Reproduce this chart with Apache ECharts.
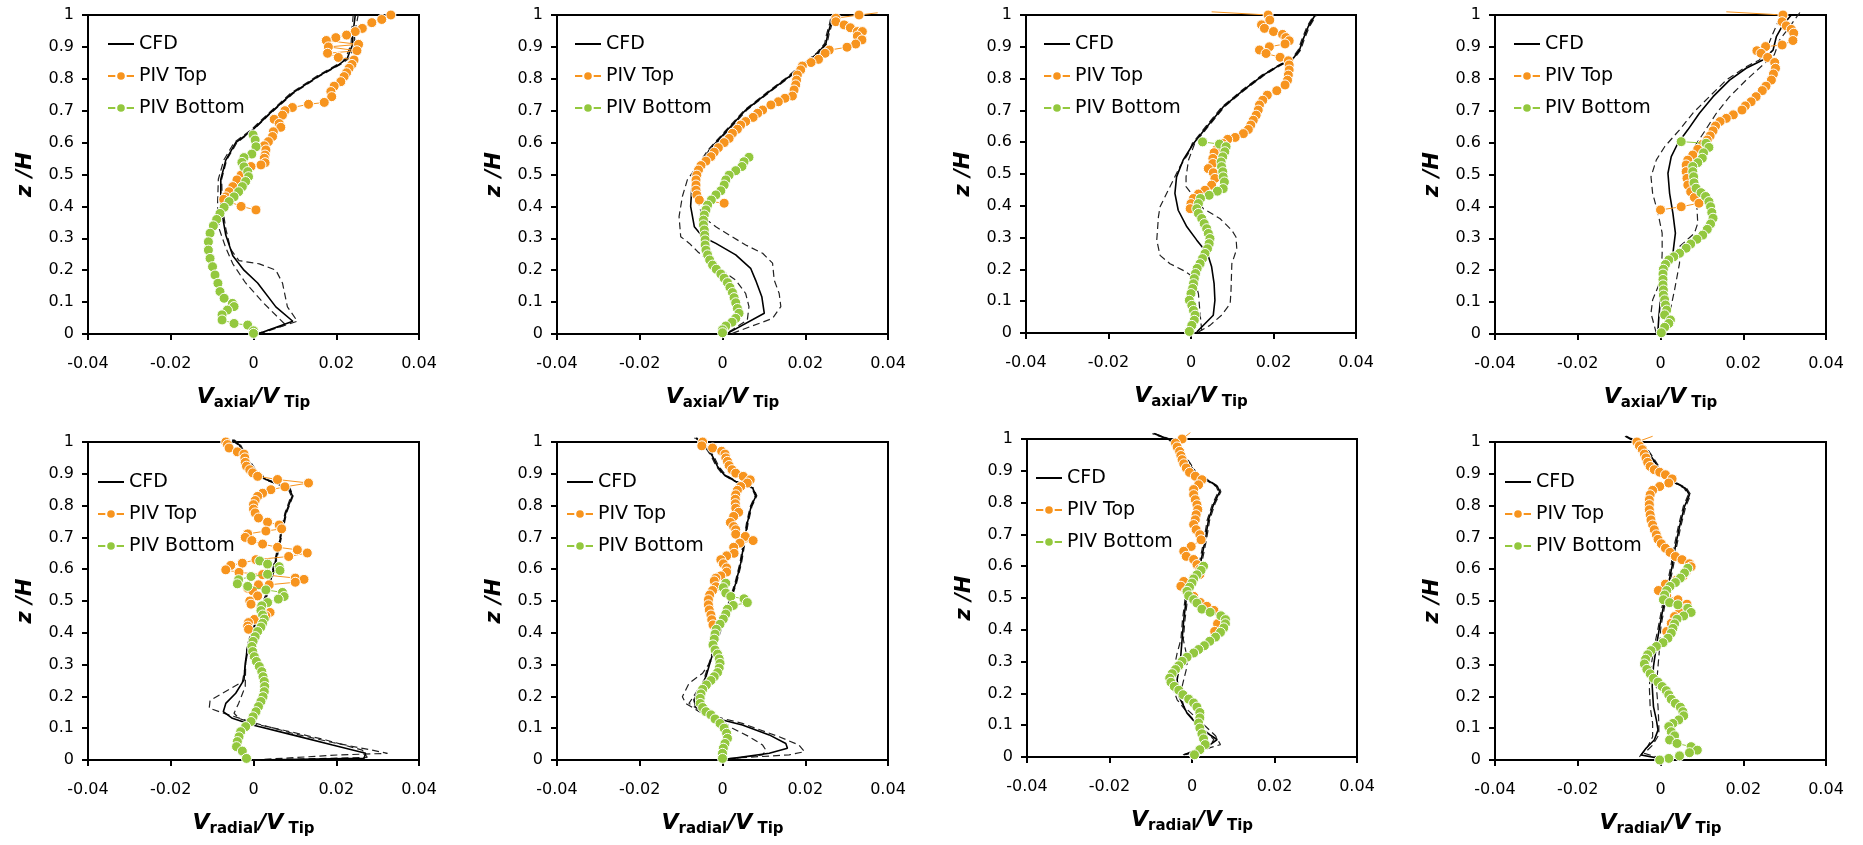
<!DOCTYPE html>
<html><head><meta charset="utf-8">
<script src="https://cdn.jsdelivr.net/npm/echarts@6/dist/echarts.min.js"></script>
<style>html,body{margin:0;padding:0;background:#fff}#c{width:1863px;height:845px}</style>
</head><body><div id="c"></div>
<script>
// ---------- tick labels ----------
const xTicks = [-0.04, -0.02, 0, 0.02, 0.04];
const yTicks = [0, 0.1, 0.2, 0.3, 0.4, 0.5, 0.6, 0.7, 0.8, 0.9, 1];
const legendNames = ['CFD', 'PIV Top', 'PIV Bottom'];

// ---------- Panel 1 (axial) ----------
const a1_cfd = [[0.001,0],[0.0095,0.04],[0.0054,0.085],[0.001,0.16],[-0.0023,0.2],[-0.005,0.245],[-0.0067,0.31],[-0.0079,0.4],[-0.0079,0.485],[-0.0067,0.545],[-0.0043,0.6],[-0.0002,0.64],[0.0038,0.69],[0.0094,0.755],[0.0159,0.81],[0.0207,0.845],[0.0227,0.865],[0.024,0.91],[0.024,0.94],[0.0246,1.0]];
const a1_cfdA = [[0.0012,0],[0.0106,0.04],[0.0082,0.085],[0.007,0.16],[0.0054,0.2],[0.0014,0.22],[-0.0035,0.23],[-0.0055,0.265],[-0.0067,0.33],[-0.0075,0.4],[-0.0077,0.485],[-0.0065,0.545],[-0.004,0.6],[0,0.64],[0.004,0.69],[0.0097,0.755],[0.0162,0.81],[0.021,0.845],[0.0232,0.865],[0.0245,0.91],[0.0244,0.94],[0.0253,1.0]];
const a1_cfdB = [[0.0005,0],[0.0078,0.028],[0.0022,0.1],[-0.0019,0.16],[-0.005,0.22],[-0.0067,0.27],[-0.0083,0.33],[-0.0087,0.4],[-0.0085,0.485],[-0.0072,0.545],[-0.0047,0.6],[-0.0006,0.64],[0.0035,0.69],[0.009,0.755],[0.0155,0.81],[0.0203,0.845],[0.0223,0.865],[0.0236,0.91],[0.0237,0.94],[0.0241,1.0]];
const a1_top = [[0.0332,1.0],[0.031,0.986],[0.0286,0.976],[0.0263,0.958],[0.0246,0.948],[0.0225,0.937],[0.0199,0.929],[0.0176,0.92],[0.0254,0.908],[0.0181,0.9],[0.025,0.888],[0.0179,0.88],[0.0205,0.867],[0.0243,0.859],[0.0238,0.845],[0.0231,0.833],[0.0225,0.819],[0.0219,0.807],[0.0211,0.791],[0.0195,0.777],[0.0187,0.76],[0.0189,0.744],[0.0171,0.726],[0.0133,0.72],[0.0094,0.71],[0.0076,0.7],[0.007,0.686],[0.005,0.673],[0.0062,0.66],[0.0066,0.648],[0.0048,0.634],[0.0046,0.619],[0.0036,0.603],[0.0026,0.59],[0.003,0.577],[0.0028,0.561],[0.0026,0.551],[0.0028,0.537],[0.0018,0.53],[-0.0006,0.525],[-0.0023,0.506],[-0.003,0.498],[-0.004,0.483],[-0.005,0.462],[-0.0059,0.446],[-0.0067,0.43],[-0.0072,0.422],[-0.003,0.4],[0.0006,0.389]];
const a1_bot = [[-0.0001,0.624],[0.0004,0.608],[0.0006,0.587],[-0.0004,0.564],[-0.0023,0.553],[-0.0028,0.538],[-0.0023,0.524],[-0.0014,0.509],[-0.0012,0.493],[-0.0019,0.478],[-0.0027,0.462],[-0.0036,0.446],[-0.0047,0.43],[-0.0059,0.415],[-0.0071,0.397],[-0.0081,0.378],[-0.0089,0.359],[-0.0097,0.339],[-0.0105,0.316],[-0.0109,0.289],[-0.0109,0.263],[-0.0105,0.237],[-0.0099,0.211],[-0.0093,0.185],[-0.0086,0.159],[-0.0081,0.133],[-0.0071,0.112],[-0.0051,0.096],[-0.0047,0.086],[-0.0063,0.075],[-0.0076,0.06],[-0.0076,0.044],[-0.0047,0.033],[-0.0014,0.028],[0,0.01],[0,0.002]];

// ---------- Panel 2 (axial) ----------
const a2_cfd = [[0.0012,0.002],[0.0101,0.065],[0.0095,0.117],[0.008,0.169],[0.0068,0.206],[0.0032,0.248],[-0.0016,0.284],[-0.0048,0.305],[-0.0068,0.336],[-0.0077,0.4],[-0.0074,0.462],[-0.0056,0.519],[-0.0032,0.577],[0.0008,0.634],[0.0056,0.702],[0.0113,0.76],[0.0161,0.807],[0.0193,0.843],[0.023,0.88],[0.025,0.911],[0.0254,0.937],[0.0262,0.974],[0.0266,1.0]];
const a2_cfdA = [[0.0024,0.002],[0.0121,0.049],[0.0141,0.086],[0.0137,0.127],[0.0125,0.169],[0.0121,0.222],[0.0097,0.253],[0.0056,0.279],[-0.0016,0.336],[-0.0048,0.368],[-0.0056,0.4],[-0.0062,0.462],[-0.005,0.519],[-0.0029,0.577],[0.0011,0.634],[0.0059,0.702],[0.0116,0.76],[0.0164,0.807],[0.0196,0.843],[0.0233,0.88],[0.0253,0.911],[0.0257,0.937],[0.0265,0.974],[0.0269,1.0]];
const a2_cfdB = [[0.0016,0.007],[0.006,0.044],[0.0064,0.086],[0.0056,0.127],[0.0032,0.169],[-0.0032,0.227],[-0.006,0.258],[-0.008,0.284],[-0.0101,0.305],[-0.0105,0.368],[-0.0097,0.431],[-0.0085,0.483],[-0.0056,0.536],[-0.0035,0.577],[0.0005,0.634],[0.0053,0.702],[0.011,0.76],[0.0158,0.807],[0.019,0.843],[0.0227,0.88],[0.0247,0.911],[0.0251,0.937],[0.0259,0.974],[0.0263,1.0]];
const a2_top = [[0.0375,1.007],[0.033,1.0],[0.0274,0.99],[0.0274,0.979],[0.0294,0.969],[0.0309,0.96],[0.0326,0.948],[0.0338,0.948],[0.0326,0.934],[0.0337,0.922],[0.0322,0.909],[0.0301,0.899],[0.0258,0.89],[0.0248,0.88],[0.0232,0.861],[0.0214,0.851],[0.0193,0.84],[0.0189,0.828],[0.0181,0.812],[0.0179,0.796],[0.0177,0.781],[0.0173,0.765],[0.0169,0.746],[0.0151,0.739],[0.0135,0.728],[0.0117,0.718],[0.0097,0.702],[0.0085,0.692],[0.0074,0.679],[0.0056,0.666],[0.0044,0.655],[0.0036,0.642],[0.0024,0.629],[0.0016,0.613],[0.0004,0.6],[-0.001,0.584],[-0.002,0.57],[-0.0028,0.556],[-0.004,0.542],[-0.0052,0.528],[-0.0058,0.514],[-0.0062,0.498],[-0.0064,0.483],[-0.0064,0.467],[-0.0064,0.451],[-0.0062,0.436],[-0.0056,0.42],[0.0004,0.41]];
const a2_bot = [[0.0064,0.554],[0.0052,0.54],[0.0047,0.525],[0.0032,0.512],[0.0016,0.498],[0.0008,0.483],[0.0004,0.467],[-0.0004,0.449],[-0.0016,0.436],[-0.0027,0.42],[-0.0036,0.404],[-0.004,0.389],[-0.0044,0.373],[-0.0046,0.357],[-0.0046,0.342],[-0.0044,0.326],[-0.0043,0.31],[-0.0042,0.295],[-0.0042,0.279],[-0.004,0.263],[-0.0036,0.248],[-0.0031,0.232],[-0.0024,0.216],[-0.0015,0.203],[-0.0004,0.188],[0.0004,0.175],[0.0012,0.161],[0.0018,0.146],[0.0024,0.13],[0.0028,0.114],[0.0032,0.098],[0.0036,0.08],[0.004,0.065],[0.0032,0.049],[0.0023,0.037],[0.0008,0.025],[0,0.013],[0,0.004]];

// ---------- Panel 3 (axial) ----------
const a3_cfd = [[0.0014,0.003],[0.0054,0.056],[0.0058,0.103],[0.0056,0.155],[0.005,0.208],[0.004,0.25],[0.0014,0.292],[-0.001,0.334],[-0.0031,0.386],[-0.0039,0.439],[-0.0035,0.491],[-0.0019,0.544],[0.0006,0.596],[0.0038,0.648],[0.0078,0.711],[0.0127,0.764],[0.0175,0.811],[0.0216,0.843],[0.0248,0.864],[0.0263,0.89],[0.0271,0.921],[0.0284,0.963],[0.0301,1.0]];
const a3_cfdA = [[0.0018,0.003],[0.0046,0.024],[0.0074,0.056],[0.0095,0.092],[0.0097,0.134],[0.0099,0.218],[0.0111,0.265],[0.0109,0.302],[0.0099,0.323],[0.007,0.36],[0.003,0.391],[-0.0012,0.46],[-0.0012,0.491],[-0.0006,0.544],[0.0009,0.596],[0.0041,0.648],[0.0081,0.711],[0.013,0.764],[0.0178,0.811],[0.0219,0.843],[0.0251,0.864],[0.0266,0.89],[0.0274,0.921],[0.0287,0.963],[0.0304,1.0]];
const a3_cfdB = [[0.0026,0.008],[0.0022,0.061],[0.0018,0.124],[0.0006,0.176],[-0.0019,0.197],[-0.0051,0.218],[-0.0075,0.244],[-0.0083,0.292],[-0.0079,0.365],[-0.0075,0.397],[-0.0051,0.46],[-0.0027,0.523],[-0.0006,0.565],[0.0003,0.596],[0.0035,0.648],[0.0075,0.711],[0.0124,0.764],[0.0172,0.811],[0.0213,0.843],[0.0245,0.864],[0.026,0.89],[0.0268,0.921],[0.0281,0.963],[0.0298,1.0]];
const a3_top = [[0.005,1.01],[0.0187,1.0],[0.0191,0.984],[0.0171,0.969],[0.0178,0.958],[0.02,0.948],[0.0222,0.939],[0.023,0.929],[0.0238,0.919],[0.0228,0.909],[0.019,0.9],[0.0166,0.89],[0.0182,0.879],[0.0216,0.867],[0.0236,0.856],[0.0238,0.843],[0.0238,0.827],[0.0236,0.811],[0.0234,0.795],[0.0228,0.78],[0.0208,0.762],[0.0185,0.748],[0.0174,0.732],[0.0166,0.717],[0.0163,0.701],[0.0158,0.685],[0.0151,0.669],[0.0145,0.654],[0.0139,0.64],[0.0127,0.627],[0.0107,0.615],[0.0089,0.609],[0.0077,0.596],[0.0064,0.58],[0.0056,0.567],[0.0053,0.549],[0.0053,0.533],[0.0042,0.517],[0.0054,0.504],[0.0058,0.486],[0.005,0.465],[0.0034,0.449],[0.0018,0.437],[0.0006,0.423],[0,0.407],[-0.0002,0.391]];
const a3_bot = [[0.0028,0.601],[0.0069,0.594],[0.0085,0.586],[0.0082,0.57],[0.0077,0.554],[0.0073,0.538],[0.0074,0.523],[0.0077,0.507],[0.0078,0.491],[0.0081,0.475],[0.0078,0.454],[0.0064,0.446],[0.0044,0.433],[0.0023,0.423],[0.0018,0.407],[0.0014,0.391],[0.0018,0.376],[0.0026,0.36],[0.0032,0.344],[0.0038,0.328],[0.0042,0.313],[0.0046,0.297],[0.0044,0.281],[0.004,0.265],[0.0034,0.25],[0.0028,0.234],[0.0022,0.218],[0.0015,0.203],[0.0011,0.187],[0.0008,0.171],[0.0006,0.155],[0.0004,0.14],[0,0.124],[-0.0004,0.103],[0.0002,0.087],[0.0006,0.071],[0.001,0.056],[0.0008,0.04],[0.0002,0.024],[-0.0004,0.005]];

// ---------- Panel 4 (axial) ----------
const a4_cfd = [[-0.0006,0.013],[-0.0004,0.054],[0,0.107],[0.0006,0.159],[0.0018,0.211],[0.003,0.253],[0.0036,0.316],[0.003,0.378],[0.0022,0.441],[0.0018,0.504],[0.0026,0.556],[0.0042,0.598],[0.0066,0.64],[0.0094,0.692],[0.0127,0.744],[0.0167,0.796],[0.0207,0.833],[0.0247,0.859],[0.0272,0.89],[0.028,0.932],[0.0296,0.969],[0.0316,1.0]];
const a4_cfdA = [[0.0002,0.007],[0.0022,0.065],[0.0034,0.138],[0.0046,0.222],[0.0046,0.274],[0.0082,0.316],[0.009,0.347],[0.0088,0.4],[0.0074,0.441],[0.0066,0.483],[0.0068,0.535],[0.0082,0.587],[0.0106,0.634],[0.0135,0.692],[0.0167,0.744],[0.0207,0.796],[0.0247,0.843],[0.0275,0.875],[0.0288,0.922],[0.0312,0.963],[0.0338,1.01]];
const a4_cfdB = [[-0.001,0.002],[-0.0023,0.065],[-0.0019,0.107],[-0.0006,0.148],[0.0002,0.19],[0.0004,0.253],[0.0004,0.316],[-0.0006,0.378],[-0.0019,0.441],[-0.0023,0.493],[-0.001,0.546],[0.001,0.587],[0.0046,0.64],[0.0078,0.692],[0.0118,0.744],[0.0159,0.796],[0.0207,0.838],[0.0239,0.859],[0.0259,0.901],[0.0272,0.943],[0.0288,0.99],[0.0296,1.005]];
const a4_top = [[0.0159,1.01],[0.0296,1.0],[0.0294,0.979],[0.0304,0.966],[0.0316,0.955],[0.0322,0.943],[0.032,0.92],[0.0294,0.906],[0.0254,0.901],[0.0233,0.888],[0.0243,0.88],[0.0259,0.867],[0.0276,0.851],[0.0278,0.833],[0.0273,0.815],[0.0268,0.796],[0.0255,0.777],[0.0246,0.763],[0.0231,0.744],[0.0219,0.728],[0.0205,0.715],[0.0197,0.702],[0.0176,0.687],[0.0159,0.676],[0.0144,0.666],[0.0133,0.652],[0.0127,0.637],[0.012,0.621],[0.0113,0.608],[0.0102,0.595],[0.009,0.579],[0.0078,0.561],[0.0066,0.545],[0.0062,0.53],[0.0062,0.509],[0.0064,0.488],[0.0066,0.467],[0.0073,0.446],[0.0082,0.428],[0.0093,0.41],[0.005,0.399],[0,0.389]];
const a4_bot = [[0.005,0.603],[0.011,0.598],[0.0117,0.585],[0.0104,0.568],[0.0101,0.551],[0.009,0.537],[0.0078,0.525],[0.0078,0.509],[0.008,0.493],[0.0081,0.474],[0.0086,0.457],[0.0098,0.443],[0.0109,0.431],[0.0117,0.415],[0.0121,0.399],[0.0124,0.381],[0.0127,0.363],[0.0121,0.345],[0.0113,0.328],[0.0102,0.31],[0.0088,0.297],[0.0073,0.282],[0.0062,0.269],[0.0046,0.253],[0.0032,0.242],[0.002,0.232],[0.0012,0.218],[0.0007,0.203],[0.0006,0.188],[0.0006,0.171],[0.0006,0.154],[0.0007,0.138],[0.0007,0.122],[0.001,0.107],[0.0012,0.091],[0.0015,0.075],[0.001,0.06],[0.0024,0.044],[0.002,0.033],[0.001,0.021],[0.0002,0.004]];

// ---------- Panel 5 (radial) ----------
const r1_cfd = [[0,0],[0.0267,0.005],[0.0271,0.021],[0.0191,0.047],[0.0094,0.079],[-0.0002,0.11],[-0.0051,0.131],[-0.0073,0.152],[-0.0067,0.178],[-0.0043,0.21],[-0.0023,0.252],[-0.002,0.304],[-0.0014,0.357],[-0.0002,0.409],[0.0014,0.462],[0.003,0.514],[0.0042,0.567],[0.0054,0.63],[0.0066,0.703],[0.0078,0.777],[0.0094,0.831],[0.0086,0.855],[0.003,0.882],[0.0002,0.913],[-0.0019,0.955],[-0.0035,0.992],[-0.0051,1.007]];
const r1_cfdA = [[0,0],[0.0207,0.016],[0.0324,0.021],[0.0287,0.031],[0.0191,0.055],[0.0094,0.084],[-0.0002,0.118],[-0.0067,0.145],[-0.0107,0.163],[-0.0105,0.187],[-0.0059,0.222],[-0.0027,0.246],[-0.002,0.293],[-0.0012,0.357],[0,0.409],[0.0016,0.462],[0.0032,0.514],[0.0044,0.567],[0.0056,0.63],[0.0068,0.703],[0.008,0.777],[0.0096,0.831],[0.0088,0.855],[0.0033,0.882],[0.0005,0.913],[-0.0016,0.955],[-0.0032,0.992],[-0.0047,1.007]];
const r1_cfdB = [[0,0],[0.0275,0.008],[0.0263,0.031],[0.0175,0.063],[0.0078,0.092],[-0.0002,0.115],[-0.0035,0.131],[-0.0047,0.147],[-0.0036,0.178],[-0.002,0.231],[-0.0019,0.293],[-0.0016,0.357],[-0.0004,0.409],[0.0012,0.462],[0.0028,0.514],[0.004,0.567],[0.0052,0.63],[0.0064,0.703],[0.0076,0.777],[0.0091,0.831],[0.0083,0.855],[0.0027,0.882],[-0.0001,0.913],[-0.0022,0.955],[-0.0038,0.992],[-0.0055,1.007]];
const r1_top = [[-0.0067,1.0],[-0.0063,0.992],[-0.0059,0.981],[-0.0039,0.969],[-0.0023,0.962],[-0.0021,0.95],[-0.002,0.936],[-0.0017,0.924],[-0.0009,0.913],[-0.0002,0.903],[0.001,0.892],[0.0058,0.882],[0.0133,0.871],[0.0076,0.859],[0.0042,0.85],[0.0022,0.839],[0.001,0.829],[0.0004,0.816],[0,0.803],[0,0.789],[0.0004,0.777],[0.0012,0.761],[0.0034,0.748],[0.0062,0.739],[0.0068,0.727],[0.003,0.72],[-0.0014,0.711],[-0.002,0.7],[-0.0004,0.69],[0.0022,0.679],[0.0058,0.669],[0.0106,0.661],[0.013,0.651],[0.0085,0.64],[0.0006,0.63],[-0.0027,0.619],[-0.0055,0.612],[-0.0067,0.598],[-0.0035,0.59],[0.0022,0.583],[0.0101,0.572],[0.0122,0.568],[0.0101,0.559],[0.0038,0.551],[0.0012,0.551],[-0.0014,0.54],[-0.0002,0.532],[0.001,0.516],[-0.0009,0.5],[-0.0006,0.49],[0.0018,0.48],[0.004,0.464],[0.003,0.453],[0.0002,0.442],[-0.0012,0.432],[-0.0014,0.421],[-0.0012,0.411]];
const r1_bot = [[0.0015,0.626],[0.0034,0.616],[0.0062,0.608],[0.0064,0.596],[0.0034,0.584],[-0.0006,0.577],[-0.0036,0.567],[-0.0039,0.554],[-0.0014,0.546],[0.003,0.535],[0.007,0.527],[0.0074,0.514],[0.006,0.506],[0.0034,0.495],[0.002,0.485],[0.0018,0.47],[0.0022,0.456],[0.0026,0.443],[0.0022,0.43],[0.0018,0.418],[0.001,0.404],[0.0004,0.388],[-0.0001,0.373],[-0.0004,0.357],[-0.0002,0.341],[0.0002,0.325],[0.0007,0.31],[0.0014,0.294],[0.002,0.278],[0.0023,0.262],[0.0026,0.247],[0.0027,0.231],[0.0026,0.215],[0.0023,0.199],[0.0018,0.184],[0.0012,0.168],[0.0006,0.152],[-0.0001,0.136],[-0.0006,0.121],[-0.0019,0.105],[-0.0031,0.089],[-0.0035,0.073],[-0.0039,0.058],[-0.0041,0.042],[-0.0027,0.028],[-0.0017,0.005]];

// ---------- Panel 6 (radial) ----------
const r2_cfd = [[0.0008,0.002],[0.0113,0.021],[0.0157,0.037],[0.0153,0.052],[0.0113,0.079],[0.0048,0.11],[0,0.126],[-0.0032,0.147],[-0.0065,0.168],[-0.0069,0.189],[-0.0056,0.22],[-0.004,0.262],[-0.0028,0.315],[-0.0016,0.367],[0,0.43],[0.0016,0.493],[0.0032,0.556],[0.0044,0.619],[0.0052,0.682],[0.006,0.745],[0.0069,0.797],[0.0081,0.831],[0.0073,0.855],[0.0032,0.876],[0.0004,0.897],[-0.0012,0.923],[-0.0024,0.955],[-0.004,0.986],[-0.0065,1.013]];
const r2_cfdA = [[0.0016,0.005],[0.0161,0.016],[0.0198,0.026],[0.0185,0.047],[0.0137,0.073],[0.0048,0.115],[0,0.131],[-0.0056,0.152],[-0.0089,0.178],[-0.0097,0.199],[-0.0081,0.241],[-0.0048,0.273],[-0.0026,0.315],[-0.0014,0.367],[0.0002,0.43],[0.0018,0.493],[0.0034,0.556],[0.0046,0.619],[0.0054,0.682],[0.0062,0.745],[0.0071,0.797],[0.0083,0.831],[0.0075,0.855],[0.0035,0.876],[0.0007,0.897],[-0.0009,0.923],[-0.0021,0.955],[-0.0037,0.986],[-0.0062,1.013]];
const r2_cfdB = [[0.0008,0.002],[0.0097,0.016],[0.0105,0.031],[0.0097,0.047],[0.0065,0.073],[0.0024,0.1],[0,0.121],[-0.0056,0.157],[-0.0081,0.178],[-0.0065,0.21],[-0.0048,0.241],[-0.003,0.315],[-0.0018,0.367],[-0.0002,0.43],[0.0014,0.493],[0.003,0.556],[0.0042,0.619],[0.005,0.682],[0.0058,0.745],[0.0067,0.797],[0.0079,0.831],[0.0071,0.855],[0.003,0.876],[0.0001,0.897],[-0.0015,0.923],[-0.0027,0.955],[-0.0043,0.986],[-0.0068,1.013]];
const r2_top = [[-0.0048,1.0],[-0.005,0.988],[-0.0024,0.981],[-0.0002,0.971],[0.0006,0.962],[0.0008,0.95],[0.0012,0.939],[0.0016,0.926],[0.0023,0.913],[0.0032,0.902],[0.005,0.892],[0.0067,0.881],[0.006,0.871],[0.0044,0.86],[0.0036,0.848],[0.0032,0.834],[0.0031,0.82],[0.0031,0.806],[0.0032,0.792],[0.0039,0.779],[0.0027,0.766],[0.0019,0.747],[0.0027,0.734],[0.0032,0.724],[0.0032,0.71],[0.0055,0.703],[0.0074,0.69],[0.0042,0.682],[0.0027,0.669],[0.0028,0.65],[0.001,0.642],[-0.0004,0.63],[0.0002,0.617],[0.001,0.604],[0.001,0.591],[-0.0004,0.579],[-0.0016,0.572],[-0.002,0.563],[-0.0016,0.545],[-0.0024,0.533],[-0.0031,0.519],[-0.0034,0.504],[-0.0034,0.488],[-0.0032,0.472],[-0.0028,0.456],[-0.0026,0.441],[-0.0023,0.425]];
const r2_bot = [[0.0008,0.556],[0.0002,0.542],[0.0008,0.525],[0.002,0.514],[0.0052,0.507],[0.006,0.495],[0.0026,0.486],[0.0012,0.474],[0.0008,0.459],[0.0002,0.443],[-0.0006,0.427],[-0.0015,0.411],[-0.0018,0.396],[-0.002,0.38],[-0.0023,0.362],[-0.0018,0.346],[-0.0012,0.333],[-0.0008,0.318],[-0.0006,0.304],[-0.0008,0.289],[-0.0012,0.275],[-0.002,0.262],[-0.0028,0.25],[-0.0039,0.236],[-0.0048,0.222],[-0.0052,0.208],[-0.0054,0.194],[-0.0054,0.178],[-0.0048,0.165],[-0.004,0.152],[-0.0028,0.142],[-0.0018,0.129],[-0.0006,0.115],[0.0004,0.1],[0.001,0.084],[0.0012,0.068],[0.0006,0.052],[0.0002,0.037],[0,0.021],[0,0.005]];

// ---------- Panel 7 (radial) ----------
const r3_cfd = [[-0.0019,0.007],[0.0012,0.023],[0.0044,0.039],[0.0061,0.055],[0.0043,0.07],[0.0012,0.102],[-0.0012,0.138],[-0.0032,0.191],[-0.0036,0.243],[-0.0028,0.306],[-0.0024,0.369],[-0.002,0.432],[-0.0014,0.495],[0,0.537],[0.0016,0.579],[0.0024,0.631],[0.0032,0.683],[0.004,0.746],[0.0053,0.797],[0.0067,0.834],[0.0062,0.85],[0.0036,0.872],[0.0008,0.893],[-0.0008,0.925],[-0.0024,0.956],[-0.0053,0.998],[-0.0093,1.017]];
const r3_cfdA = [[-0.0015,0.007],[0.0069,0.039],[0.0057,0.067],[0.0024,0.107],[-0.002,0.159],[-0.0028,0.201],[-0.002,0.243],[-0.0012,0.285],[-0.0014,0.327],[-0.0021,0.369],[-0.0017,0.432],[-0.0011,0.495],[0.0003,0.537],[0.0019,0.579],[0.0027,0.631],[0.0035,0.683],[0.0043,0.746],[0.0056,0.797],[0.007,0.834],[0.0065,0.85],[0.0039,0.872],[0.0011,0.893],[-0.0005,0.925],[-0.0021,0.956],[-0.005,0.998],[-0.009,1.017]];
const r3_cfdB = [[-0.0022,0.007],[0.004,0.028],[0.0053,0.055],[0.0028,0.086],[-0.0004,0.128],[-0.0036,0.18],[-0.0048,0.222],[-0.0044,0.275],[-0.0036,0.327],[-0.0027,0.369],[-0.0023,0.432],[-0.0017,0.495],[-0.0003,0.537],[0.0013,0.579],[0.0021,0.631],[0.0029,0.683],[0.0037,0.746],[0.005,0.797],[0.0064,0.834],[0.0059,0.85],[0.0033,0.872],[0.0005,0.893],[-0.0011,0.925],[-0.0027,0.956],[-0.0056,0.998],[-0.0096,1.017]];
const r3_top = [[-0.0004,1.02],[-0.0024,1.0],[-0.004,0.987],[-0.0036,0.975],[-0.003,0.961],[-0.0027,0.948],[-0.0024,0.935],[-0.002,0.922],[-0.0014,0.909],[-0.0006,0.895],[0.0008,0.883],[0.0024,0.872],[0.0016,0.856],[0.0004,0.841],[0.0004,0.825],[0.0008,0.809],[0.0012,0.793],[0.0014,0.778],[0.001,0.762],[0.0008,0.746],[0.0004,0.731],[0.001,0.715],[0.0019,0.699],[0.0022,0.683],[-0.0002,0.662],[-0.002,0.647],[-0.0014,0.631],[0.0004,0.621],[0.0012,0.605],[0.0019,0.591],[0.0019,0.574],[0.0004,0.563],[-0.002,0.552],[-0.0027,0.537],[-0.0014,0.521],[0.0004,0.505],[0.002,0.486],[0.0036,0.474],[0.0053,0.461],[0.0069,0.444],[0.0062,0.419],[0.0055,0.395]];
const r3_bot = [[0.0028,0.6],[0.0022,0.587],[0.0012,0.573],[0.0004,0.56],[0,0.547],[-0.0006,0.534],[-0.0012,0.521],[-0.0008,0.507],[0.0004,0.495],[0.0012,0.484],[0.0024,0.465],[0.0044,0.455],[0.007,0.444],[0.0081,0.432],[0.0081,0.419],[0.0077,0.406],[0.0069,0.392],[0.0057,0.377],[0.0043,0.364],[0.003,0.35],[0.0016,0.338],[0.0004,0.327],[-0.0012,0.314],[-0.0024,0.301],[-0.0032,0.287],[-0.004,0.275],[-0.0048,0.262],[-0.0054,0.248],[-0.0051,0.235],[-0.0043,0.222],[-0.0032,0.21],[-0.0022,0.196],[-0.0008,0.182],[0.0004,0.17],[0.0012,0.157],[0.0019,0.14],[0.0019,0.123],[0.0016,0.107],[0.0019,0.091],[0.0024,0.073],[0.0028,0.057],[0.0032,0.039],[0.0019,0.023],[0.0006,0.007]];

// ---------- Panel 8 (radial) ----------
const r4_cfd = [[-0.0002,0.005],[-0.0047,0.016],[-0.0035,0.037],[-0.0015,0.063],[-0.0006,0.094],[-0.001,0.126],[-0.0017,0.168],[-0.002,0.231],[-0.0017,0.294],[-0.001,0.357],[-0.0002,0.42],[0.0007,0.483],[0.0018,0.546],[0.0028,0.609],[0.0036,0.672],[0.0046,0.734],[0.0058,0.797],[0.007,0.834],[0.006,0.855],[0.003,0.876],[-0.0002,0.913],[-0.002,0.95],[-0.0039,0.986],[-0.0083,1.018]];
const r4_cfdA = [[0.0002,0.005],[-0.0039,0.021],[-0.0019,0.047],[-0.0004,0.079],[-0.0004,0.115],[-0.0006,0.168],[-0.001,0.231],[-0.0006,0.294],[-0.0002,0.357],[0.0001,0.42],[0.001,0.483],[0.0021,0.546],[0.0031,0.609],[0.0039,0.672],[0.0049,0.734],[0.0061,0.797],[0.0073,0.834],[0.0063,0.855],[0.0033,0.876],[0.0001,0.913],[-0.0017,0.95],[-0.0036,0.986],[-0.008,1.018]];
const r4_cfdB = [[-0.0051,0.01],[-0.0031,0.042],[-0.0019,0.073],[-0.0019,0.115],[-0.0025,0.168],[-0.0027,0.231],[-0.0023,0.294],[-0.0015,0.357],[-0.0005,0.42],[0.0004,0.483],[0.0015,0.546],[0.0025,0.609],[0.0033,0.672],[0.0043,0.734],[0.0055,0.797],[0.0067,0.834],[0.0057,0.855],[0.0027,0.876],[-0.0005,0.913],[-0.0023,0.95],[-0.0042,0.986],[-0.0086,1.018]];
const r4_top = [[-0.0019,1.018],[-0.0057,1.0],[-0.0051,0.988],[-0.0044,0.976],[-0.0039,0.962],[-0.0035,0.95],[-0.0031,0.936],[-0.0025,0.923],[-0.0015,0.913],[-0.0002,0.905],[0.0012,0.897],[0.0028,0.884],[0.002,0.871],[-0.0002,0.86],[-0.0019,0.848],[-0.0025,0.834],[-0.0027,0.818],[-0.0027,0.803],[-0.0027,0.787],[-0.0025,0.771],[-0.0023,0.755],[-0.0019,0.739],[-0.0015,0.724],[-0.001,0.708],[-0.0006,0.694],[0.0002,0.68],[0.0012,0.666],[0.0023,0.653],[0.0036,0.64],[0.0052,0.63],[0.007,0.617],[0.0074,0.608],[0.0062,0.593],[0.0054,0.577],[0.0038,0.565],[0.0012,0.553],[-0.0005,0.533],[0.0015,0.516],[0.0042,0.504],[0.0064,0.49],[0.0062,0.477],[0.0046,0.464],[0.0034,0.451],[0.0026,0.43],[0.0015,0.404]];
const r4_bot = [[0.0066,0.603],[0.0058,0.588],[0.0048,0.572],[0.0036,0.558],[0.0023,0.546],[0.0015,0.533],[0.001,0.519],[0.0007,0.504],[0.0022,0.495],[0.0042,0.488],[0.0066,0.477],[0.0074,0.464],[0.0056,0.453],[0.004,0.443],[0.0034,0.428],[0.003,0.414],[0.0026,0.399],[0.0018,0.383],[0.0006,0.369],[-0.001,0.357],[-0.0023,0.344],[-0.0031,0.331],[-0.0036,0.317],[-0.0039,0.302],[-0.0033,0.285],[-0.0025,0.271],[-0.0017,0.257],[-0.0006,0.245],[0.0004,0.231],[0.0014,0.218],[0.002,0.205],[0.0026,0.191],[0.0036,0.178],[0.0048,0.166],[0.0054,0.152],[0.0056,0.139],[0.0044,0.126],[0.003,0.115],[0.002,0.105],[0.0026,0.089],[0.0034,0.076],[0.0022,0.063],[0.004,0.052],[0.0074,0.042],[0.0089,0.031],[0.007,0.023],[0.0046,0.013],[0.002,0.005],[-0.0002,0]];

const panels = [
  {kind:'axial',  cfd:a1_cfd, cfdA:a1_cfdA, cfdB:a1_cfdB, top:a1_top, bot:a1_bot},
  {kind:'axial',  cfd:a2_cfd, cfdA:a2_cfdA, cfdB:a2_cfdB, top:a2_top, bot:a2_bot},
  {kind:'axial',  cfd:a3_cfd, cfdA:a3_cfdA, cfdB:a3_cfdB, top:a3_top, bot:a3_bot},
  {kind:'axial',  cfd:a4_cfd, cfdA:a4_cfdA, cfdB:a4_cfdB, top:a4_top, bot:a4_bot},
  {kind:'radial', cfd:r1_cfd, cfdA:r1_cfdA, cfdB:r1_cfdB, top:r1_top, bot:r1_bot},
  {kind:'radial', cfd:r2_cfd, cfdA:r2_cfdA, cfdB:r2_cfdB, top:r2_top, bot:r2_bot},
  {kind:'radial', cfd:r3_cfd, cfdA:r3_cfdA, cfdB:r3_cfdB, top:r3_top, bot:r3_bot},
  {kind:'radial', cfd:r4_cfd, cfdA:r4_cfdA, cfdB:r4_cfdB, top:r4_top, bot:r4_bot}
];

// ---------- layout ----------
const gridBoxes = [
  {left:88,  top:15,  width:331, height:319},
  {left:557, top:15,  width:331, height:319},
  {left:1026,top:15,  width:330, height:318},
  {left:1495,top:15,  width:331, height:319},
  {left:88,  top:442, width:331, height:318},
  {left:557, top:442, width:331, height:318},
  {left:1027,top:439, width:330, height:318},
  {left:1495,top:442, width:331, height:318}
];
const legendPos = [[107,34],[574,34],[1043,34],[1513,34],[97,472],[566,472],[1035,468],[1504,472]];

const FONT = 'DejaVu Sans';
const ORANGE = '#F7941E';
const GREEN = '#93C83E';

const option = {
  animation: false,
  backgroundColor: '#fff',
  textStyle: {fontFamily: FONT, color: '#000'},
  grid: [], xAxis: [], yAxis: [], legend: [], series: []
};

// points lying above the frame carry only the connecting line, no marker
const markerSize = v => (v[1] > 1.001 ? 0 : 10);

panels.forEach((p, i) => {
  const g = gridBoxes[i];
  option.grid.push(Object.assign({show:true, borderColor:'#000', borderWidth:2, backgroundColor:'#fff'}, g));
  option.xAxis.push({
    type:'value', gridIndex:i, min:xTicks[0], max:xTicks[xTicks.length-1], interval:0.02,
    splitLine:{show:false},
    axisLine:{show:true, onZero:false, lineStyle:{color:'#000', width:2}},
    axisTick:{show:true, inside:false, length:6, lineStyle:{color:'#000', width:2}},
    axisLabel:{fontSize:16, color:'#000', fontFamily:FONT, margin:22,
      formatter: v => { const r = Math.round(v*100)/100; return r === 0 ? '0' : String(r); }},
    name: p.kind === 'axial' ? '{v|V}{s|axial}{v|/V}{s| Tip}' : '{v|V}{s|radial}{v|/V}{s| Tip}',
    nameLocation:'middle', nameGap:50,
    nameTextStyle:{rich:{
      v:{fontSize:22, fontWeight:'bold', fontStyle:'italic', fontFamily:FONT, color:'#000', lineHeight:26},
      s:{fontSize:15, fontWeight:'bold', fontFamily:FONT, color:'#000', lineHeight:14, padding:[12,0,0,0]}
    }}
  });
  option.yAxis.push({
    type:'value', gridIndex:i, min:yTicks[0], max:yTicks[yTicks.length-1], interval:0.1,
    splitLine:{show:false},
    axisLine:{show:true, onZero:false, lineStyle:{color:'#000', width:2}},
    axisTick:{show:true, inside:false, length:6, lineStyle:{color:'#000', width:2}},
    axisLabel:{fontSize:16, color:'#000', fontFamily:FONT, margin:14,
      formatter: v => { const r = Math.round(v*10)/10; return String(r); }},
    name:'z /H', nameLocation:'middle', nameGap:52, nameRotate:90,
    nameTextStyle:{fontSize:21, fontWeight:'bold', fontStyle:'italic', fontFamily:FONT, color:'#000'}
  });
  option.legend.push({
    orient:'vertical', left:legendPos[i][0], top:legendPos[i][1], padding:0,
    itemGap:12, itemWidth:26, itemHeight:12, selectedMode:false,
    textStyle:{fontSize:19, lineHeight:20, color:'#000', fontFamily:FONT},
    data: legendNames.map(n => n === 'CFD'
      ? {name:n, itemStyle:{opacity:0, color:'transparent', borderColor:'transparent'}}
      : {name:n})
  });
  const dashed = (d, nm) => ({
    type:'line', name:nm, xAxisIndex:i, yAxisIndex:i, data:d, symbol:'none', clip:false,
    lineStyle:{color:'#222', width:1.2, type:[7,4]}, silent:true, z:2
  });
  option.series.push(dashed(p.cfdA, 'CFD upper'));
  option.series.push(dashed(p.cfdB, 'CFD lower'));
  option.series.push({
    type:'line', name:'CFD', xAxisIndex:i, yAxisIndex:i, data:p.cfd, symbol:'none', clip:false,
    lineStyle:{color:'#000', width:1.6}, itemStyle:{color:'#000'}, silent:true, z:3
  });
  option.series.push({
    type:'line', name:'PIV Top', xAxisIndex:i, yAxisIndex:i, data:p.top, clip:false,
    symbol:'circle', symbolSize:markerSize, showAllSymbol:true,
    lineStyle:{color:ORANGE, width:1},
    itemStyle:{color:ORANGE, borderColor:'#fff', borderWidth:1},
    silent:true, z:4
  });
  option.series.push({
    type:'line', name:'PIV Bottom', xAxisIndex:i, yAxisIndex:i, data:p.bot, clip:false,
    symbol:'circle', symbolSize:markerSize, showAllSymbol:true,
    lineStyle:{color:GREEN, width:1},
    itemStyle:{color:GREEN, borderColor:'#fff', borderWidth:1},
    silent:true, z:5
  });
});

const chart = echarts.init(document.getElementById('c'), null, {renderer:'canvas'});
chart.setOption(option);
</script>
</body></html>
